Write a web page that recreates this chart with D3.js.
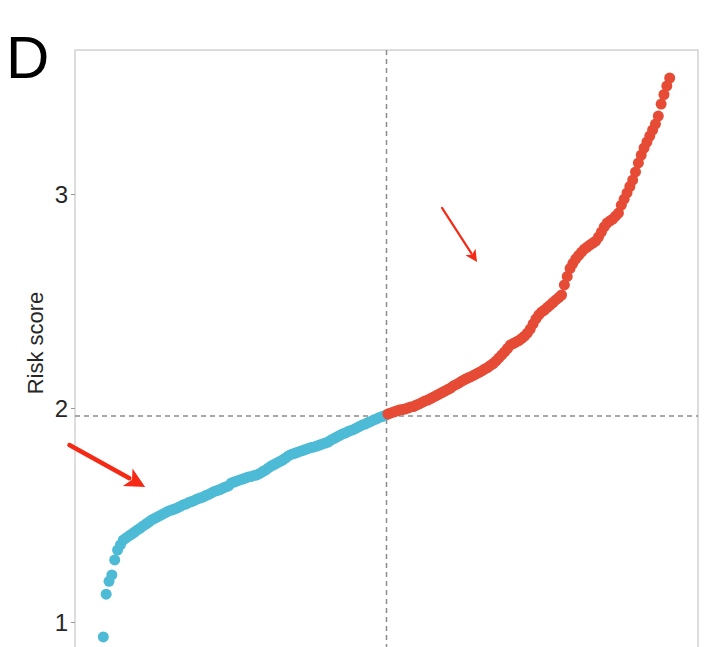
<!DOCTYPE html>
<html>
<head>
<meta charset="utf-8">
<script src="https://cdn.jsdelivr.net/npm/d3@7"></script>
<style>
  body { margin: 0; background: #fff; }
  svg { display: block; font-family: "Liberation Sans", Arial, sans-serif; }
</style>
</head>
<body>
<div id="chart"></div>
<script>
// sorted risk scores, low-risk group (below median)
const lowRisk = [
  0.93, 1.13, 1.19, 1.22, 1.29, 1.336, 1.36, 1.383, 1.393, 1.402,
  1.411, 1.42, 1.43, 1.439, 1.449, 1.458, 1.467, 1.477, 1.484, 1.491,
  1.498, 1.505, 1.512, 1.519, 1.523, 1.528, 1.533, 1.54, 1.547, 1.551,
  1.558, 1.563, 1.568, 1.575, 1.579, 1.584, 1.591, 1.596, 1.603, 1.61,
  1.614, 1.619, 1.626, 1.631, 1.636, 1.65, 1.654, 1.659, 1.664, 1.668,
  1.673, 1.678, 1.68, 1.685, 1.687, 1.694, 1.703, 1.71, 1.72, 1.729,
  1.736, 1.743, 1.75, 1.757, 1.766, 1.776, 1.783, 1.787, 1.792, 1.797,
  1.801, 1.806, 1.811, 1.815, 1.818, 1.822, 1.827, 1.832, 1.836, 1.841,
  1.85, 1.857, 1.864, 1.871, 1.879, 1.883, 1.89, 1.895, 1.9, 1.907,
  1.914, 1.921, 1.925, 1.932, 1.937, 1.944, 1.949, 1.956, 1.96, 1.965
];
// sorted risk scores, high-risk group (above median)
const highRisk = [
  1.972, 1.977, 1.981, 1.986, 1.991, 1.993, 1.995, 2.0, 2.005, 2.007,
  2.014, 2.019, 2.026, 2.033, 2.037, 2.044, 2.051, 2.058, 2.065, 2.072,
  2.079, 2.086, 2.093, 2.103, 2.11, 2.117, 2.126, 2.133, 2.14, 2.145,
  2.152, 2.159, 2.166, 2.173, 2.182, 2.189, 2.199, 2.208, 2.22, 2.234,
  2.248, 2.262, 2.278, 2.294, 2.301, 2.308, 2.315, 2.325, 2.336, 2.35,
  2.369, 2.393, 2.416, 2.435, 2.449, 2.458, 2.47, 2.481, 2.493, 2.505,
  2.516, 2.528, 2.575, 2.615, 2.652, 2.676, 2.697, 2.713, 2.728, 2.742,
  2.752, 2.762, 2.771, 2.78, 2.799, 2.822, 2.846, 2.864, 2.874, 2.883,
  2.897, 2.911, 2.948, 2.976, 3.005, 3.035, 3.065, 3.103, 3.145, 3.182,
  3.215, 3.243, 3.271, 3.299, 3.327, 3.364, 3.42, 3.465, 3.505, 3.542
];
const cutoff = 1.963;
const yTicks = [1, 2, 3];
// annotation arrows in data units: [index, value]
const arrows = [
  { from: [-11.9, 1.827], to: [14.7, 1.631], width: 4.5, head: 20 },
  { from: [119, 2.935], to: [131.3, 2.682], width: 2.2, head: 12 }
];

const config = {
  width: 719, height: 647,
  left: 75, right: 698
};

const points = lowRisk.map((v, i) => ({ idx: i, value: v, group: 'low' }))
  .concat(highRisk.map((v, i) => ({ idx: lowRisk.length + i, value: v, group: 'high' })));
const n = points.length;

const svg = d3.select('#chart').append('svg')
    .attr('width', config.width)
    .attr('height', config.height);

// x: sample index with 5% padding, y: risk score
const xPad = (n - 1) * 0.05;
const x = d3.scaleLinear()
    .domain([-xPad, n - 1 + xPad])
    .range([config.left, config.right]);

const yMin = d3.min(points, d => d.value), yMax = d3.max(points, d => d.value);
const yPad = (yMax - yMin) * 0.05;
const y = d3.scaleLinear()
    .domain([1, 3])
    .range([622, 194]);
const yTop = y(yMax + yPad), yBottom = y(yMin - yPad);

// panel border
svg.append('rect')
    .attr('x', config.left)
    .attr('y', yTop)
    .attr('width', config.right - config.left)
    .attr('height', yBottom - yTop)
    .attr('fill', 'none')
    .attr('stroke', '#cfcfcf')
    .attr('stroke-width', 1.4);

// y axis
const yAxis = svg.append('g')
    .attr('transform', `translate(${config.left},0)`)
    .call(d3.axisLeft(y).tickValues(yTicks).tickSize(4).tickPadding(3).tickFormat(d3.format('d')));
yAxis.select('.domain').remove();
yAxis.selectAll('.tick line').attr('stroke', '#9a9a9a');
yAxis.selectAll('.tick text')
    .attr('fill', '#262626')
    .attr('font-size', 24)
    .attr('dy', '0.35em');

svg.append('text')
    .attr('transform', `translate(43,343) rotate(-90)`)
    .attr('text-anchor', 'middle')
    .attr('fill', '#262626')
    .attr('font-size', 22)
    .text('Risk score');

// cutoff lines
const medianIdx = (n - 1) / 2;
svg.append('line')
    .attr('x1', x(medianIdx)).attr('x2', x(medianIdx))
    .attr('y1', yTop).attr('y2', yBottom)
    .attr('stroke', '#8c8c8c').attr('stroke-width', 1.5)
    .attr('stroke-dasharray', '5,4');
svg.append('line')
    .attr('x1', config.left).attr('x2', config.right)
    .attr('y1', y(cutoff)).attr('y2', y(cutoff))
    .attr('stroke', '#8c8c8c').attr('stroke-width', 1.5)
    .attr('stroke-dasharray', '5,4');

// points
const colour = d3.scaleOrdinal().domain(['low', 'high']).range(['#4DBBD5', '#E64B35']);
svg.append('g').selectAll('circle')
    .data(points)
    .join('circle')
    .attr('cx', d => x(d.idx))
    .attr('cy', d => y(d.value))
    .attr('r', 5.5)
    .attr('fill', d => colour(d.group));

// arrows
arrows.forEach(a => {
  const x0 = x(a.from[0]), y0 = y(a.from[1]);
  const x1 = x(a.to[0]), y1 = y(a.to[1]);
  const ang = Math.atan2(y1 - y0, x1 - x0);
  const hl = a.head, hw = a.head * 0.5;
  const bx = x1 - hl * Math.cos(ang), by = y1 - hl * Math.sin(ang);
  svg.append('line')
      .attr('x1', x0).attr('y1', y0)
      .attr('x2', bx + Math.cos(ang) * 2).attr('y2', by + Math.sin(ang) * 2)
      .attr('stroke', '#F42A17').attr('stroke-width', a.width)
      .attr('stroke-linecap', 'round');
  const px = -Math.sin(ang), py = Math.cos(ang);
  svg.append('path')
      .attr('d', `M${x1},${y1} L${bx + px * hw},${by + py * hw} L${bx + Math.cos(ang) * hl * 0.25},${by + Math.sin(ang) * hl * 0.25} L${bx - px * hw},${by - py * hw} Z`)
      .attr('fill', '#F42A17');
});

// panel letter
svg.append('text')
    .attr('x', 6)
    .attr('y', 78)
    .attr('fill', '#000')
    .attr('font-size', 60)
    .text('D');
</script>
</body>
</html>
